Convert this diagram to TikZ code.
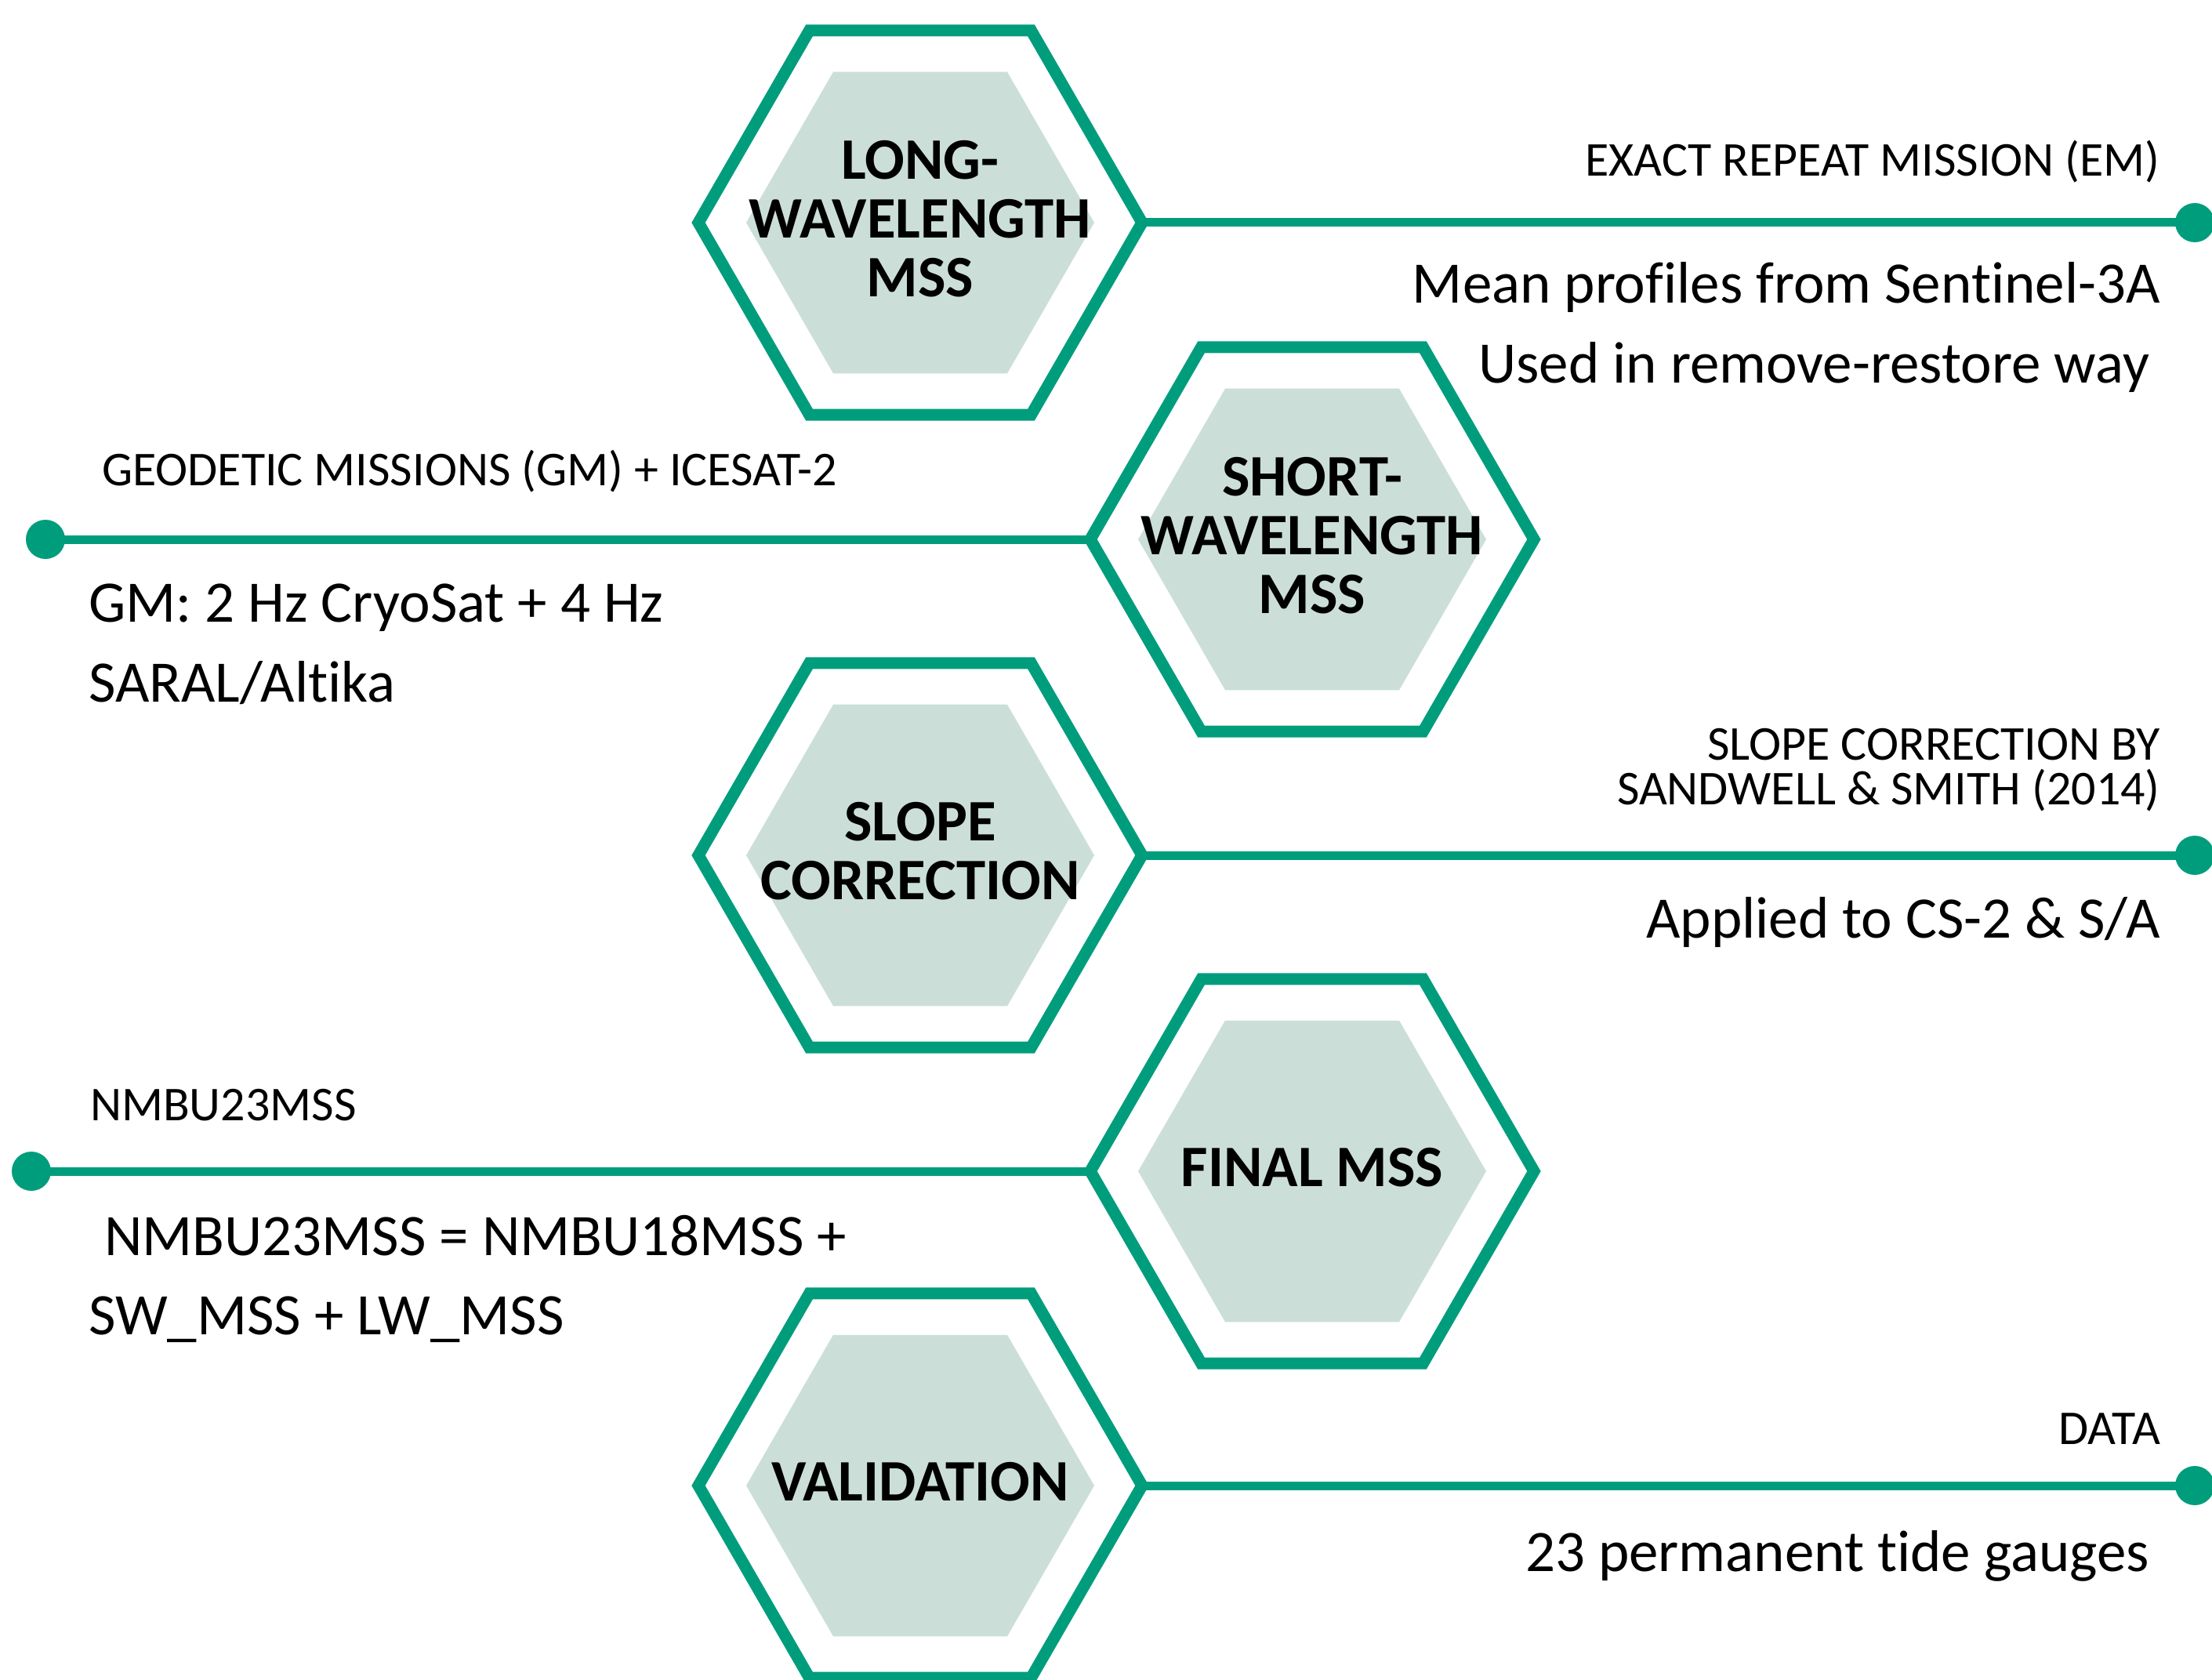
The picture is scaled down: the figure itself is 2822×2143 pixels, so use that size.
\documentclass[tikz,border=0pt]{standalone}
\usepackage{fontspec}
\setmainfont{Carlito}[Ligatures=CommonOff]
\usetikzlibrary{shapes.geometric}
\definecolor{hexteal}{RGB}{0,157,125}
\definecolor{hexfill}{RGB}{203,223,216}
\begin{document}
\begin{tikzpicture}[x=1pt,y=-1pt,
  hexouter/.style={regular polygon, regular polygon sides=6, minimum size=566pt,
    inner sep=0pt, outer sep=0pt, draw=hexteal, line width=15pt, fill=white},
  hexinner/.style={regular polygon, regular polygon sides=6, minimum size=444pt,
    inner sep=0pt, outer sep=0pt, fill=hexfill},
  hextext/.style={font=\bfseries\fontsize{75}{75}\selectfont, align=center,
    text=black, inner sep=0pt, yshift=5pt},
  dot/.style={circle, fill=hexteal, minimum size=50pt, inner sep=0pt},
  conn/.style={draw=hexteal, line width=11pt},
  smalltxt/.style={font=\fontsize{62}{58}\selectfont, inner sep=0pt, text=black},
  bigtxt/.style={font=\fontsize{75}{100}\selectfont, inner sep=0pt, text=black}]
\clip (0,0) rectangle (2822,2143);
\fill[white] (0,0) rectangle (2822,2143);

% hexagons
\node[hexouter] (h1) at (1174,284) {};
\node[hexinner] (i1) at (h1.center) {};
\node[hextext] (t1) at (h1.center) {LONG-\\WAVELENGTH\\MSS};

\node[hexouter] (h2) at (1674,688) {};
\node[hexinner] (i2) at (h2.center) {};
\node[hextext] (t2) at (h2.center) {SHORT-\\WAVELENGTH\\MSS};

\node[hexouter] (h3) at (1174,1091) {};
\node[hexinner] (i3) at (h3.center) {};
\node[hextext] (t3) at (h3.center) {SLOPE\\CORRECTION};

\node[hexouter] (h4) at (1674,1494) {};
\node[hexinner] (i4) at (h4.center) {};
\node[hextext] (t4) at (h4.center) {FINAL MSS};

\node[hexouter] (h5) at (1174,1895) {};
\node[hexinner] (i5) at (h5.center) {};
\node[hextext] (t5) at (h5.center) {VALIDATION};

% dots
\node[dot] (d1) at (2800,284) {};
\node[dot] (d2) at (58,688) {};
\node[dot] (d3) at (2800,1091) {};
\node[dot] (d4) at (40,1494) {};
\node[dot] (d5) at (2800,1895) {};

% connectors
\draw[conn] (h1.east) -- (d1.center);
\draw[conn] (d2.center) -- (h2.west);
\draw[conn] (h3.east) -- (d3.center);
\draw[conn] (d4.center) -- (h4.west);
\draw[conn] (h5.east) -- (d5.center);

% row 1 texts
\node[smalltxt, anchor=base east] (a1) at (2756,225) {EXACT REPEAT MISSION (EM)};
\node[bigtxt, anchor=base east] (b1) at (2756,386) {Mean profiles from Sentinel-3A};
\node[bigtxt, anchor=base east] (c1) at (2742,488) {Used in remove-restore way};

% row 2 texts
\node[smalltxt, anchor=base west] (a2) at (130,619) {GEODETIC MISSIONS (GM) + ICESAT-2};
\node[bigtxt, anchor=base west] (b2) at (113,793) {GM: 2 Hz CryoSat + 4 Hz};
\node[bigtxt, anchor=base west] (c2) at (113,895) {SARAL/Altika};

% row 3 texts
\node[smalltxt, anchor=base east] (a3) at (2756,969) {SLOPE CORRECTION BY};
\node[smalltxt, anchor=base east] (a3b) at (2756,1026) {SANDWELL \& SMITH (2014)};
\node[bigtxt, anchor=base east] (b3) at (2756,1196) {Applied to CS-2 \& S/A};

% row 4 texts
\node[smalltxt, anchor=base west] (a4) at (115,1429) {NMBU23MSS};
\node[bigtxt, anchor=base west] (b4) at (133,1601) {NMBU23MSS = NMBU18MSS +};
\node[bigtxt, anchor=base west] (c4) at (113,1702) {SW\_MSS + LW\_MSS};

% row 5 texts
\node[smalltxt, anchor=base east] (a5) at (2756,1842) {DATA};
\node[bigtxt, anchor=base east] (b5) at (2742,2004) {23 permanent tide gauges};
\end{tikzpicture}
\end{document}
